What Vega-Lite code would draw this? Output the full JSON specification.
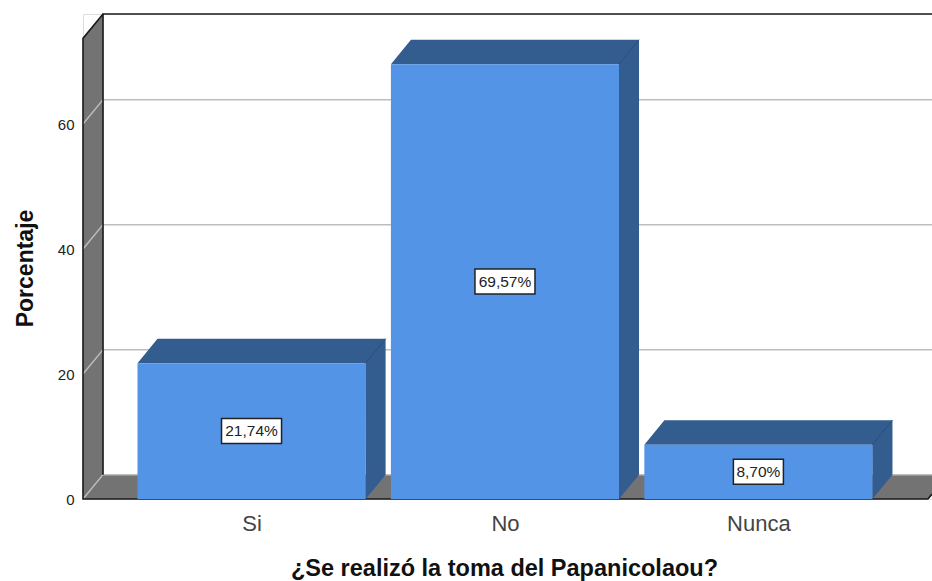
{
"$schema":"https://vega.github.io/schema/vega-lite/v6.json",
"width":849,"height":485,
"autosize":{"type":"none"},
"padding":{"left":83,"top":14,"right":0,"bottom":82},
"background":"white",
"datasets":{
"bars":[{"cat":"Si","i":0,"value":21.74,"label":"21,74%"},{"cat":"No","i":1,"value":69.57,"label":"69,57%"},{"cat":"Nunca","i":2,"value":8.70,"label":"8,70%"}],
"wall":[{"x":-0.665,"y":0,"y2":73.7},{"x":-0.586,"y":3.9,"y2":77.6}],
"floor":[{"x":-0.665,"y":0,"y2":0},{"x":-0.586,"y":0,"y2":3.9},{"x":2.669,"y":0,"y2":3.9},{"x":2.685,"y":0.78,"y2":3.9}],
"grid":[{"k":0,"o":0,"x":-0.665,"y":0},{"k":0,"o":1,"x":-0.586,"y":3.9},{"k":0,"o":2,"x":2.685,"y":3.9},
{"k":20,"o":0,"x":-0.665,"y":20},{"k":20,"o":1,"x":-0.586,"y":23.9},{"k":20,"o":2,"x":2.685,"y":23.9},
{"k":40,"o":0,"x":-0.665,"y":40},{"k":40,"o":1,"x":-0.586,"y":43.9},{"k":40,"o":2,"x":2.685,"y":43.9},
{"k":60,"o":0,"x":-0.665,"y":60},{"k":60,"o":1,"x":-0.586,"y":63.9},{"k":60,"o":2,"x":2.685,"y":63.9}],
"frame":[{"k":"a","o":0,"x":-0.586,"y":3.9},{"k":"a","o":1,"x":-0.586,"y":77.6},{"k":"a","o":2,"x":2.685,"y":77.6},
{"k":"b","o":0,"x":-0.586,"y":77.6},{"k":"b","o":1,"x":-0.665,"y":73.7},{"k":"b","o":2,"x":-0.665,"y":0},{"k":"b","o":3,"x":2.669,"y":0},{"k":"b","o":4,"x":2.685,"y":0.78}]
},
"encoding":{
"x":{"field":"x","type":"quantitative","scale":{"domain":[-0.665,2.685],"nice":false,"zero":false},
"axis":{"values":[0,1,2],"labelExpr":"['Si','No','Nunca'][datum.value]","grid":false,"domain":false,"ticks":false,"labelFont":"Liberation Sans","labelFontSize":22,"labelColor":"#444444","labelPadding":14,"title":"¿Se realizó la toma del Papanicolaou?","titleFont":"Liberation Sans","titleFontSize":23.5,"titleFontWeight":"bold","titleColor":"#111111","titlePadding":22,"titleX":421}},
"y":{"field":"y","type":"quantitative","scale":{"domain":[0,77.6],"nice":false},
"axis":{"values":[0,20,40,60],"grid":false,"domain":false,"ticks":false,"labelFont":"Liberation Sans","labelFontSize":15,"labelColor":"#222222","labelPadding":9,"title":"Porcentaje","titleFont":"Liberation Sans","titleFontSize":23,"titleFontWeight":"bold","titleColor":"#111111","titlePadding":20,"titleY":254}}
},
"layer":[
{"data":{"name":"wall"},"mark":{"type":"area","color":"#737373"},"encoding":{"y2":{"field":"y2"}}},
{"data":{"name":"floor"},"mark":{"type":"area","color":"#737373"},"encoding":{"y2":{"field":"y2"}}},
{"data":{"name":"grid"},"mark":{"type":"line","color":"#bdbdbd","strokeWidth":1.5},"encoding":{"detail":{"field":"k"},"order":{"field":"o"}}},
{"data":{"name":"frame"},"mark":{"type":"line","color":"#1a1a1a","strokeWidth":1.6},"encoding":{"detail":{"field":"k"},"order":{"field":"o"}}},
{"data":{"name":"bars"},
"transform":[
{"calculate":"[0,1,2,3,4]","as":"c"},{"flatten":["c"]},
{"calculate":"datum.c==0?datum.i-0.45:datum.c==1?datum.i-0.371:datum.c==2?datum.i+0.449:datum.c==3?datum.i+0.45:datum.i+0.529","as":"x"},
{"calculate":"datum.c==3?0:datum.c==4?3.9:datum.value","as":"y"},
{"calculate":"datum.c==0?datum.value:datum.value+3.9","as":"y2"}],
"mark":{"type":"area","color":"#335c8f"},
"encoding":{"y2":{"field":"y2"},"detail":{"field":"cat"}}},
{"data":{"name":"bars"},
"transform":[
{"calculate":"[0,1]","as":"c"},{"flatten":["c"]},
{"calculate":"datum.i+0.45+datum.c*0.079","as":"x"},
{"calculate":"datum.value+datum.c*3.9","as":"y"}],
"mark":{"type":"line","color":"#2b4f7c","strokeWidth":1},
"encoding":{"detail":{"field":"cat"}}},
{"data":{"name":"bars"},
"transform":[{"calculate":"datum.i-0.45","as":"x"},{"calculate":"datum.i+0.45","as":"x2"},{"calculate":"0","as":"y"},{"calculate":"datum.value","as":"y2"}],
"mark":{"type":"rect","color":"#5394e6"},
"encoding":{"x2":{"field":"x2"},"y2":{"field":"y2"}}},
{"data":{"name":"bars"},
"transform":[{"calculate":"length(datum.label)*5/253.4","as":"hw"},{"calculate":"datum.i-datum.hw","as":"x"},{"calculate":"datum.i+datum.hw","as":"x2"},{"calculate":"datum.value/2-2","as":"y"},{"calculate":"datum.value/2+2","as":"y2"}],
"mark":{"type":"rect","fill":"white","stroke":"#222222","strokeWidth":1.5},
"encoding":{"x2":{"field":"x2"},"y2":{"field":"y2"}}},
{"data":{"name":"bars"},
"transform":[{"calculate":"datum.i","as":"x"},{"calculate":"datum.value/2","as":"y"}],
"mark":{"type":"text","font":"Liberation Sans","fontSize":15.5,"color":"#222222","align":"center","baseline":"middle"},
"encoding":{"text":{"field":"label"}}}
]
}
